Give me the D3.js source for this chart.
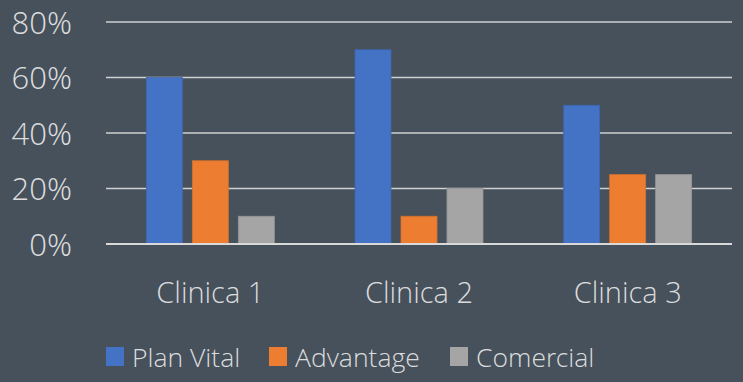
<!DOCTYPE html>
<html><head><meta charset="utf-8">
<script src="https://cdn.jsdelivr.net/npm/d3@7"></script>
<style>
html,body{margin:0;padding:0;background:#46515c;}
svg{display:block;}
text{font-family:"Open Sans Light","Open Sans","Noto Sans",sans-serif;font-weight:300;fill:#dcdcdc;}
</style></head>
<body>
<svg id="c" width="743" height="382"></svg>
<script>
const categories = ["Clinica 1", "Clinica 2", "Clinica 3"];
const seriesNames = ["Plan Vital", "Advantage", "Comercial"];
const planVital = [0.60, 0.70, 0.50];
const advantage = [0.30, 0.10, 0.25];
const comercial = [0.10, 0.20, 0.25];
const yTicks = [0, 0.2, 0.4, 0.6, 0.8];
const colors = ["#4472c4", "#ed7d31", "#a5a5a5"];
const strokes = ["#3e66b0", "#d5702c", "#959595"];

const seriesValues = [planVital, advantage, comercial];
const svg = d3.select("#c");
const mLeft = 106, mRight = 732, mTop = 22, mBottom = 244;

const x = d3.scaleBand().domain(categories).range([mLeft, mRight]).paddingInner(0).paddingOuter(0);
const y = d3.scaleLinear().domain([0, 0.8]).range([mBottom, mTop]);
const x1 = d3.scaleBand().domain(seriesNames).range([0, x.bandwidth()]).paddingInner(0.217).paddingOuter(0.877);

// grid
svg.append("g").selectAll("line").data(yTicks).join("line")
  .attr("x1", mLeft).attr("x2", mRight)
  .attr("y1", d => y(d)).attr("y2", d => y(d))
  .attr("stroke", "#d0d0d0").attr("stroke-width", 1.6);

// y axis labels
const yAxis = d3.axisLeft(y).tickValues(yTicks).tickFormat(d3.format(".0%")).tickSize(0).tickPadding(0);
const ya = svg.append("g").attr("transform", "translate(72,0)").call(yAxis);
ya.select(".domain").remove();
ya.selectAll("text").attr("font-size", 31).attr("font-family", null).attr("fill", null).attr("dy", "0.36em");

// bars
const groups = svg.append("g").selectAll("g").data(categories).join("g")
  .attr("transform", d => `translate(${x(d)},0)`);
groups.selectAll("rect").data((c, i) => seriesNames.map((s, j) => ({s, j, v: seriesValues[j][i]})))
  .join("rect")
  .attr("x", d => x1(d.s)).attr("width", x1.bandwidth())
  .attr("y", d => y(d.v)).attr("height", d => y(0) - y(d.v))
  .attr("fill", d => colors[d.j]).attr("stroke", d => strokes[d.j]).attr("stroke-width", 0.8);

// baseline on top
svg.append("line").attr("x1", mLeft).attr("x2", mRight).attr("y1", y(0)).attr("y2", y(0))
  .attr("stroke", "#d9d9d9").attr("stroke-width", 1.8);

// x axis labels
const xAxis = d3.axisBottom(x).tickSize(0).tickPadding(0);
const xa = svg.append("g").attr("transform", "translate(0,303)").call(xAxis);
xa.select(".domain").remove();
xa.selectAll("text").attr("font-size", 29).attr("font-family", null).attr("fill", null).attr("dy", 0);

// legend
const legX = [106, 269, 450];
const leg = svg.append("g").selectAll("g").data(seriesNames).join("g")
  .attr("transform", (d, i) => `translate(${legX[i]},347)`);
leg.append("rect").attr("width", 18).attr("height", 19).attr("fill", (d, i) => colors[i]);
leg.append("text").attr("x", 26).attr("y", 20).attr("font-size", 26.5).text(d => d);
</script>
</body></html>
